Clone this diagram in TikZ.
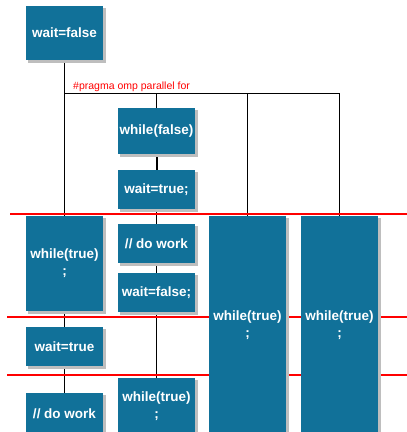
\documentclass[tikz,border=0pt]{standalone}
\usepackage{fontspec}
\setmainfont{Liberation Sans}
\usetikzlibrary{backgrounds}
\definecolor{boxblue}{RGB}{17,113,153}
\definecolor{shadowgray}{RGB}{190,190,190}
\tikzset{
  blockbox/.style={fill=boxblue, draw=none, inner sep=0pt, minimum width=77pt,
    text=white, align=center, font=\fontsize{13.5}{17}\selectfont\bfseries},
  conn/.style={draw=black, line width=0.8pt},
  thickconn/.style={draw=black, line width=2pt},
  redline/.style={draw=red, line width=2pt},
  boxshadow/.style={fill=shadowgray, draw=none},
  pragma/.style={text=red, font=\fontsize{10.5}{12}\selectfont, inner sep=0pt}
}
\begin{document}
\begin{tikzpicture}[x=1pt, y=-1pt]
\useasboundingbox (0,0) rectangle (407,432);
\clip (0,0) rectangle (407,432);
\coordinate (r1a) at (10,213.5); \coordinate (r1b) at (407,213.5);
\coordinate (r2a) at (7,316.5);  \coordinate (r2b) at (407,316.5);
\coordinate (r3a) at (7,375);    \coordinate (r3b) at (407,375);
% nodes
\node[blockbox, minimum height=54pt] (wf) at (64.5,33) {wait=false};
\node[blockbox, minimum height=46pt] (wfalse) at (156.5,131) {while(false)};
\node[blockbox, minimum height=39pt] (wtrue1) at (156.5,189.5) {wait=true;};
\node[blockbox, minimum height=95pt] (wt) at (64.5,263.5) {while(true)\\;};
\node[blockbox, minimum height=39pt] (dw1) at (156.5,243.5) {// do work};
\node[blockbox, minimum height=39pt] (wfs) at (156.5,292.5) {wait=false;};
\node[blockbox, minimum height=39pt] (wt2) at (64.5,346.5) {wait=true};
\node[blockbox, minimum height=41pt] (dw2) at (64.5,413.5) {// do work};
\node[blockbox, minimum height=56pt] (wtm) at (156.5,406) {while(true)\\;};
\node[blockbox, minimum height=218pt] (A) at (247.5,325) {while(true)\\;};
\node[blockbox, minimum height=218pt] (B) at (339.5,325) {while(true)\\;};
\node[pragma, anchor=base west] (lbl) at (73,89.5) {\#pragma omp parallel for};
\coordinate (branch) at (64.5,93);
\begin{scope}[on background layer]
  % connectors
  \draw[conn] (wf.south) -- (wt.north);
  \draw[conn] (branch) -| (B.north);
  \draw[conn] (wfalse.north |- branch) -- (wfalse.north);
  \draw[conn] (A.north |- branch) -- (A.north);
  \draw[thickconn] (wfalse.south) -- (wtrue1.north);
  \draw[conn] (wtrue1.south) -- (dw1.north);
  \draw[conn] (dw1.south) -- (wfs.north);
  \draw[conn] (wfs.south) -- (wtm.north);
  \draw[conn] (wt.south) -- (wt2.north);
  \draw[conn] (wt2.south) -- (dw2.north);
  % red separators
  \draw[redline] (r1a) -- (r1b);
  \draw[redline] (r2a) -- (r2b);
  \draw[redline] (r3a) -- (r3b);
  % shadows
  \foreach \n in {wf,wfalse,wtrue1,wt,dw1,wfs,wt2,dw2,wtm,A,B}{
    \fill[boxshadow] ([shift={(2.5,2.5)}]\n.north west) rectangle ([shift={(2.5,2.5)}]\n.south east);
  }
\end{scope}
\end{tikzpicture}
\end{document}
